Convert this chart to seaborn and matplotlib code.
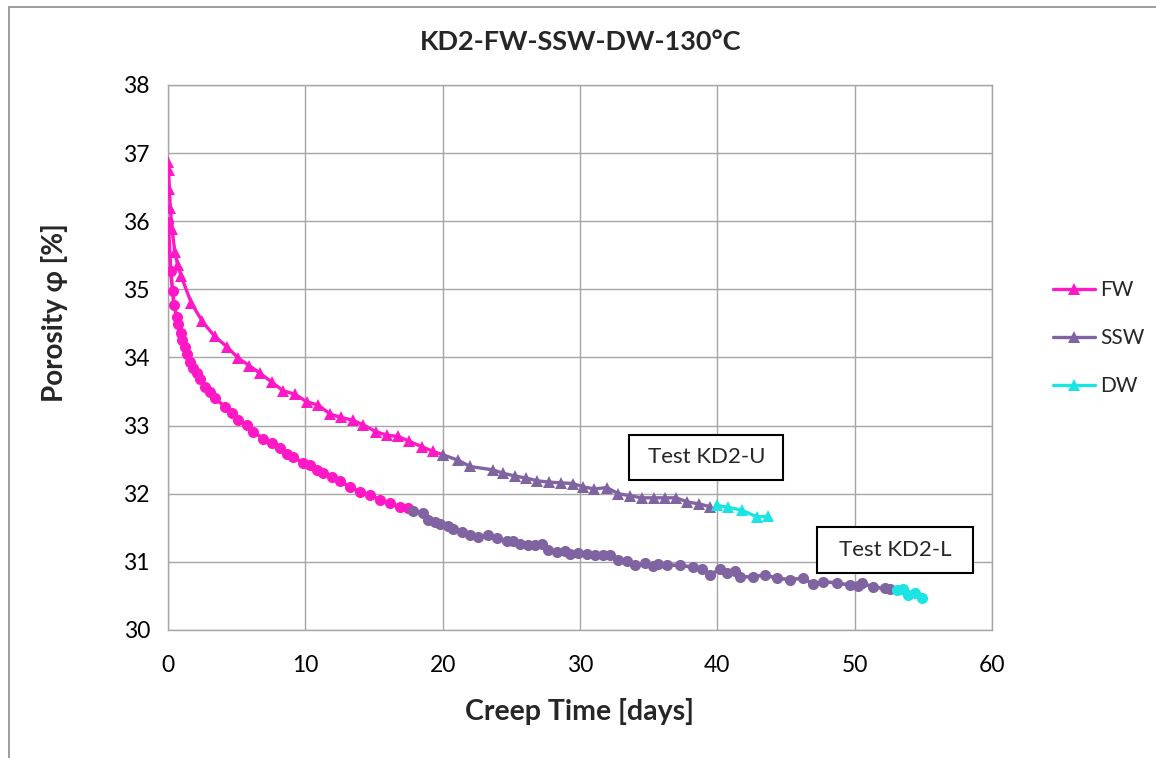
import matplotlib
matplotlib.use("Agg")
import matplotlib.pyplot as plt
from matplotlib.patches import Rectangle
import seaborn as sns

# ---- Test KD2-U (upper sample, triangles) ----
u_fw_days = [0.02, 0.05, 0.10, 0.17, 0.30, 0.50, 0.70, 0.95, 1.70, 2.50, 3.40,
             4.28, 5.12, 5.92, 6.70, 7.55, 8.40, 9.25, 10.10, 10.95, 11.80,
             12.60, 13.45, 14.22, 15.15, 15.93, 16.77, 17.57, 18.48, 19.32, 20.05]
u_fw_phi = [36.87, 36.75, 36.48, 36.20, 35.88, 35.55, 35.36, 35.20, 34.80, 34.53, 34.31,
            34.16, 33.99, 33.88, 33.77, 33.64, 33.51, 33.46, 33.35, 33.30, 33.17,
            33.12, 33.08, 33.01, 32.91, 32.86, 32.84, 32.77, 32.69, 32.62, 32.57]

u_ssw_days = [20.05, 21.14, 22.00, 23.65, 24.42, 25.27, 26.07, 26.90, 27.75, 28.62,
              29.48, 30.25, 31.05, 31.95, 32.80, 33.65, 34.50, 35.40, 36.20, 37.00,
              37.82, 38.67, 39.48]
u_ssw_phi = [32.57, 32.49, 32.40, 32.35, 32.30, 32.26, 32.23, 32.19, 32.17, 32.16,
             32.15, 32.10, 32.07, 32.09, 32.00, 31.97, 31.94, 31.94, 31.94, 31.94,
             31.88, 31.85, 31.81]

u_dw_days = [39.96, 40.81, 41.78, 42.88, 43.72]
u_dw_phi = [31.83, 31.80, 31.76, 31.66, 31.67]

# ---- Test KD2-L (lower sample, circles) ----
l_fw_days = [0.02, 0.20, 0.34, 0.44, 0.63, 0.75, 0.92, 1.04, 1.24, 1.41, 1.60, 1.84,
             2.09, 2.33, 2.69, 3.06, 3.42, 4.15, 4.64, 5.12, 5.73, 6.21, 6.94, 7.55,
             8.16, 8.64, 9.13, 9.85, 10.34, 10.83, 11.31, 11.92, 12.52, 13.26, 13.98,
             14.71, 15.44, 16.17, 16.90, 17.50]
l_fw_phi = [35.99, 35.27, 34.97, 34.77, 34.60, 34.49, 34.36, 34.26, 34.16, 34.05, 33.94, 33.84,
            33.77, 33.69, 33.57, 33.50, 33.40, 33.28, 33.18, 33.08, 33.01, 32.91, 32.81, 32.74,
            32.67, 32.59, 32.54, 32.45, 32.42, 32.35, 32.30, 32.25, 32.18, 32.10, 32.03,
            31.98, 31.91, 31.86, 31.81, 31.79]

l_ssw_days = [17.87, 18.59, 18.96, 19.45, 19.81, 20.41, 20.78, 21.39, 22.00, 22.60,
              23.33, 23.94, 24.67, 25.15, 25.64, 26.24, 26.73, 27.21, 27.70, 28.30,
              28.91, 29.27, 29.88, 30.49, 31.09, 31.70, 32.19, 32.79, 33.40, 34.01,
              34.73, 35.34, 35.70, 36.31, 37.28, 38.25, 38.86, 39.47, 40.20, 40.68,
              41.29, 41.65, 42.62, 43.47, 44.32, 45.29, 46.26, 46.99, 47.72, 48.69,
              49.66, 50.27, 50.51, 51.36, 52.21, 52.57]
l_ssw_phi = [31.75, 31.71, 31.62, 31.59, 31.55, 31.53, 31.48, 31.44, 31.39, 31.37,
             31.39, 31.35, 31.30, 31.31, 31.26, 31.25, 31.24, 31.26, 31.17, 31.15,
             31.16, 31.12, 31.13, 31.11, 31.10, 31.10, 31.10, 31.03, 31.01, 30.95,
             30.98, 30.94, 30.97, 30.95, 30.95, 30.92, 30.89, 30.81, 30.89, 30.83,
             30.87, 30.78, 30.78, 30.81, 30.76, 30.74, 30.76, 30.67, 30.71, 30.69,
             30.66, 30.64, 30.69, 30.63, 30.61, 30.60]

l_dw_days = [53.06, 53.54, 53.92, 54.41, 54.89]
l_dw_phi = [30.59, 30.60, 30.51, 30.54, 30.47]

series_names = ["FW", "SSW", "DW"]
series_colors = {"FW": "#FF19C6", "SSW": "#8064A2", "DW": "#1AE4E4"}

x_ticks = [0, 10, 20, 30, 40, 50, 60]
y_ticks = [30, 31, 32, 33, 34, 35, 36, 37, 38]

title_text = "KD2-FW-SSW-DW-130°C"
x_label = "Creep Time [days]"
y_label = "Porosity φ [%]"
box_labels = ["Test KD2-U", "Test KD2-L"]

sns.set_theme(style="white")
plt.rcParams["font.family"] = ["Lato", "DejaVu Sans"]

fig = plt.figure(figsize=(11.56, 7.58), dpi=100)
ax = fig.add_axes([0.1453, 0.1689, 0.7128, 0.7190])

upper = {"FW": (u_fw_days, u_fw_phi), "SSW": (u_ssw_days, u_ssw_phi), "DW": (u_dw_days, u_dw_phi)}
lower = {"FW": (l_fw_days, l_fw_phi), "SSW": (l_ssw_days, l_ssw_phi), "DW": (l_dw_days, l_dw_phi)}

handles = []
for name in series_names:
    d, p = lower[name]
    sns.lineplot(x=d, y=p, ax=ax, color=series_colors[name], linewidth=2.6,
                 marker="o", markersize=8, markeredgewidth=0,
                 sort=False, estimator=None, legend=False, zorder=3)
for name in series_names:
    d, p = upper[name]
    sns.lineplot(x=d, y=p, ax=ax, color=series_colors[name], linewidth=2.4,
                 marker="^", markersize=8, markeredgewidth=0,
                 sort=False, estimator=None, legend=False, zorder=3)
    handles.append(ax.lines[-1])

ax.set_xlim(x_ticks[0], x_ticks[-1])
ax.set_ylim(y_ticks[0], y_ticks[-1])
ax.set_xticks(x_ticks)
ax.set_yticks(y_ticks)
ax.tick_params(axis="both", length=0, labelsize=16.5, colors="black")
ax.tick_params(axis="x", pad=18)
ax.tick_params(axis="y", pad=13)
ax.grid(True, color="#A6A6A6", linewidth=1.0)
ax.set_axisbelow(True)
for s in ax.spines.values():
    s.set_color("#A6A6A6")
    s.set_linewidth(1.0)

ax.set_xlabel(x_label, fontsize=20.5, fontweight="bold", labelpad=16)
ax.set_ylabel(y_label, fontsize=20, fontweight="bold")
ax.yaxis.set_label_coords(-0.121, 0.582)
fig.text(0.502, 0.944, title_text, ha="center", va="center", fontsize=19.5, fontweight="bold")

# annotation boxes
box_specs = [(0.560, 0.2752, 0.187, 0.0826), (0.788, 0.1046, 0.189, 0.0844)]
for (bx, by, bw, bh), txt in zip(box_specs, box_labels):
    ax.add_patch(Rectangle((bx, by), bw, bh, transform=ax.transAxes, facecolor="white",
                           edgecolor="black", linewidth=1.5, zorder=5, clip_on=False))
    ax.text(bx + bw / 2, by + bh / 2, txt, transform=ax.transAxes, ha="center", va="center",
            fontsize=16, zorder=6)

leg = fig.legend(handles, series_names, loc="center left", bbox_to_anchor=(0.895, 0.554),
                 frameon=False, fontsize=15, handlelength=2.0, handletextpad=0.25,
                 labelspacing=1.35)

# outer chart-area border
fig.add_artist(Rectangle((9 / 1156, -0.05), 1.2, 1 - 7 / 758 + 0.05, transform=fig.transFigure,
                         fill=False, edgecolor="#8C8C8C", linewidth=1.2))

fig.savefig("out.png", dpi=100)
